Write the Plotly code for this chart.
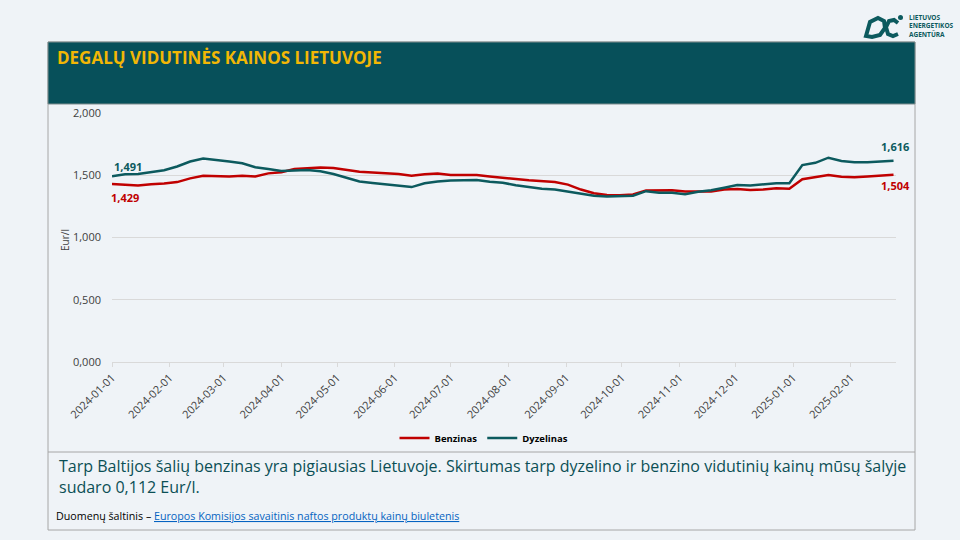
import plotly.graph_objects as go

# ---- data ----
dates = [
    "2024-01-01", "2024-01-08", "2024-01-15", "2024-01-22", "2024-01-29",
    "2024-02-05", "2024-02-12", "2024-02-19", "2024-02-26", "2024-03-04",
    "2024-03-11", "2024-03-18", "2024-03-25", "2024-04-01", "2024-04-08",
    "2024-04-15", "2024-04-22", "2024-04-29", "2024-05-06", "2024-05-13",
    "2024-05-20", "2024-05-27", "2024-06-03", "2024-06-10", "2024-06-17",
    "2024-06-24", "2024-07-01", "2024-07-08", "2024-07-15", "2024-07-22",
    "2024-07-29", "2024-08-05", "2024-08-12", "2024-08-19", "2024-08-26",
    "2024-09-02", "2024-09-09", "2024-09-16", "2024-09-23", "2024-09-30",
    "2024-10-07", "2024-10-14", "2024-10-21", "2024-10-28", "2024-11-04",
    "2024-11-11", "2024-11-18", "2024-11-25", "2024-12-02", "2024-12-09",
    "2024-12-16", "2024-12-23", "2024-12-30", "2025-01-06", "2025-01-13",
    "2025-01-20", "2025-01-27", "2025-02-03", "2025-02-10", "2025-02-17",
    "2025-02-24",
]
benzinas = [
    1.429, 1.425, 1.418, 1.428, 1.433, 1.445, 1.475, 1.495, 1.490, 1.490,
    1.495, 1.490, 1.515, 1.525, 1.550, 1.555, 1.562, 1.558, 1.540, 1.528,
    1.522, 1.516, 1.510, 1.496, 1.508, 1.514, 1.502, 1.502, 1.502, 1.490,
    1.483, 1.470, 1.460, 1.455, 1.445, 1.425, 1.385, 1.355, 1.341, 1.340,
    1.345, 1.378, 1.378, 1.380, 1.370, 1.368, 1.370, 1.385, 1.390, 1.382,
    1.385, 1.395, 1.392, 1.468, 1.483, 1.502, 1.488, 1.483, 1.490, 1.495,
    1.504,
]
dyzelinas = [
    1.491, 1.508, 1.510, 1.522, 1.540, 1.570, 1.610, 1.635, 1.625, 1.610,
    1.596, 1.565, 1.550, 1.535, 1.538, 1.542, 1.532, 1.510, 1.480, 1.450,
    1.438, 1.428, 1.420, 1.405, 1.435, 1.450, 1.458, 1.462, 1.462, 1.448,
    1.440, 1.420, 1.405, 1.392, 1.385, 1.368, 1.350, 1.335, 1.330, 1.330,
    1.335, 1.372, 1.360, 1.360, 1.348, 1.368, 1.380, 1.400, 1.422, 1.418,
    1.428, 1.435, 1.435, 1.582, 1.600, 1.641, 1.615, 1.604, 1.604, 1.612,
    1.616,
]
tick_dates = [
    "2024-01-01", "2024-02-01", "2024-03-01", "2024-04-01", "2024-05-01",
    "2024-06-01", "2024-07-01", "2024-08-01", "2024-09-01", "2024-10-01",
    "2024-11-01", "2024-12-01", "2025-01-01", "2025-02-01",
]
y_ticks = [0, 0.5, 1.0, 1.5, 2.0]
y_ticktext = ["0,000", "0,500", "1,000", "1,500", "2,000"]

title = "DEGALŲ VIDUTINĖS KAINOS LIETUVOJE"
note = ("Tarp Baltijos šalių benzinas yra pigiausias Lietuvoje. Skirtumas tarp dyzelino ir benzino "
        "vidutinių kainų mūsų šalyje<br>sudaro 0,112 Eur/l.")
source_prefix = "Duomenų šaltinis – "
source_link = "Europos Komisijos savaitinis naftos produktų kainų biuletenis"

RED = "#c00000"
TEAL = "#0c5a5e"
BG = "#eff3f7"
BAND = "#07505a"
FONT = "Open Sans"

# ---- layout geometry (pixels) ----
W, H = 960, 540
L, R, T, B = 112, 896, 113, 362


def px(x):
    return (x - L) / (R - L)


def py(y):
    return (B - y) / (B - T)


fig = go.Figure()
fig.add_trace(go.Scatter(x=dates, y=benzinas, mode="lines", name="<b>Benzinas</b>",
                         line=dict(color=RED, width=2.5)))
fig.add_trace(go.Scatter(x=dates, y=dyzelinas, mode="lines", name="<b>Dyzelinas</b>",
                         line=dict(color=TEAL, width=2.5)))

shapes = []
# outer box
shapes.append(dict(type="rect", xref="paper", yref="paper", x0=px(48), x1=px(915), y0=py(530), y1=py(42),
                   line=dict(color="#a6a6a6", width=1), fillcolor="rgba(0,0,0,0)", layer="below"))
# title band
shapes.append(dict(type="rect", xref="paper", yref="paper", x0=px(48), x1=px(915), y0=py(104), y1=py(42),
                   line=dict(color="#7f8c8d", width=1), fillcolor=BAND, layer="below"))
# separator line above text box
shapes.append(dict(type="line", xref="paper", yref="paper", x0=px(48), x1=px(915), y0=py(452), y1=py(452),
                   line=dict(color="#a6a6a6", width=1)))


def path_px(points, close=False):
    s = "M " + " L ".join(f"{px(x):.5f},{py(y):.5f}" for x, y in points)
    return s + (" Z" if close else "")


# logo: D-like glyph
shapes.append(dict(type="path", xref="paper", yref="paper",
                   path=path_px([(866, 36), (870, 22), (878, 18), (884, 21), (885, 28), (880, 35), (872, 37)], True),
                   line=dict(color=TEAL, width=4), fillcolor="rgba(0,0,0,0)"))
# logo: C arc
shapes.append(dict(type="path", xref="paper", yref="paper",
                   path=path_px([(898, 23), (894, 20), (889, 21), (886, 27), (888, 34), (893, 36), (898, 34)]),
                   line=dict(color=TEAL, width=4), fillcolor="rgba(0,0,0,0)"))
# logo: dot
shapes.append(dict(type="circle", xref="paper", yref="paper", x0=px(898), x1=px(903), y0=py(20), y1=py(15),
                   line=dict(width=0), fillcolor=TEAL))


def ann(text, x, y, size, color, xanchor="center", **kw):
    d = dict(text=text, x=px(x), y=py(y), xref="paper", yref="paper", xanchor=xanchor,
             yanchor="middle", showarrow=False, font=dict(family=FONT, size=size, color=color))
    d.update(kw)
    return d


annotations = [
    ann(f"<b>{title}</b>", 55, 58, 17, "#f2b705", xanchor="left"),
    ann("<b>LIETUVOS<br>ENERGETIKOS<br>AGENTŪRA</b>", 907, 26, 6.5, TEAL, xanchor="left", align="left"),
    ann("<b>1,491</b>", 128, 166, 11, TEAL),
    ann("<b>1,429</b>", 125, 197, 11, RED),
    ann("<b>1,616</b>", 895, 146, 11, TEAL),
    ann("<b>1,504</b>", 895, 185, 11, RED),
    ann("Eur/l", 65, 240, 10, "#404040", textangle=-90),
    ann(note, 57, 476, 16, "#0b4f55", xanchor="left", align="left"),
    ann(f"{source_prefix}<a href='https://energy.ec.europa.eu/data-and-analysis/weekly-oil-bulletin_en'>"
        f"<span style='color:#0563c1'><u>{source_link}</u></span></a>",
        54, 516, 10.7, "#000000", xanchor="left"),
]

fig.update_layout(
    width=W, height=H,
    margin=dict(l=L, r=W - R, t=T, b=H - B),
    paper_bgcolor=BG, plot_bgcolor=BG,
    font=dict(family=FONT, color="#404040"),
    showlegend=True,
    legend=dict(orientation="h", x=px(484), xanchor="center", y=py(438), yanchor="middle",
                font=dict(family=FONT, size=9.5, color="#000000"), bgcolor="rgba(0,0,0,0)",
                itemwidth=30, tracegroupgap=0),
    shapes=shapes,
    annotations=annotations,
    hovermode=False,
)
fig.update_xaxes(
    type="date", range=["2024-01-01", "2025-02-25 08:00"],
    tickvals=tick_dates, ticktext=tick_dates, tickangle=-45,
    tickfont=dict(family=FONT, size=11, color="#404040"),
    showgrid=False, showline=True, linecolor="#d9d9d9", linewidth=1,
    ticks="outside", ticklen=4, tickcolor="#d9d9d9", zeroline=False,
)
fig.update_yaxes(
    range=[0, 2.0], tickvals=y_ticks, ticktext=y_ticktext,
    tickfont=dict(family=FONT, size=11, color="#404040"),
    showgrid=True, gridcolor="#d9d9d9", gridwidth=1, zeroline=False,
    showline=False, ticks="", ticklabelstandoff=10,
)

fig.write_html("out.html", config={"displayModeBar": False},
               post_script="document.body.style.margin='0';document.body.style.background='" + BG + "';")
